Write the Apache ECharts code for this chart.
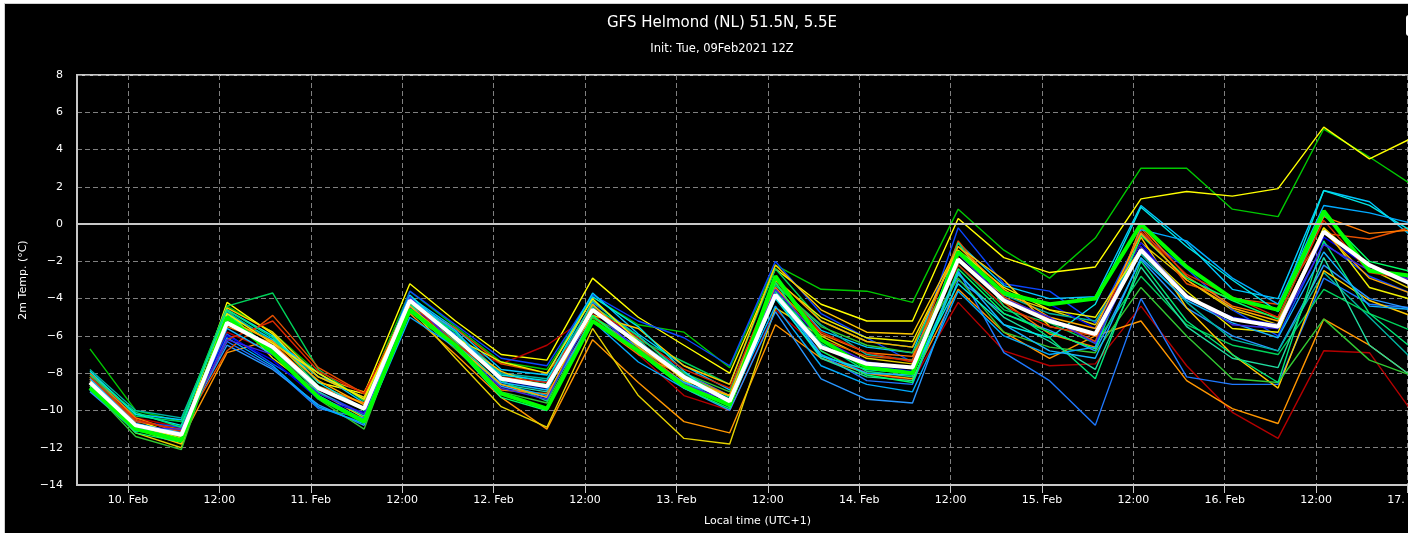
<!DOCTYPE html>
<html>
<head>
<meta charset="UTF-8">
<title>GFS Helmond ensemble</title>
<script src="https://cdn.jsdelivr.net/npm/echarts@6.0.0/dist/echarts.min.js"></script>
<style>
  html, body { margin: 0; padding: 0; background: #fff; overflow: hidden; }
  #main { position: absolute; left: 4px; top: 3px; width: 1434px; height: 540px;
          border-left: 1px solid #d0d0d0; border-top: 1px solid #d0d0d0; background: #000; }
</style>
</head>
<body>
<div id="main"></div>
<script>
// hours after 10 Feb 00:00 local time (UTC+1), one step every 6 h
const hours = [-5, 1, 7, 13, 19, 25, 31, 37, 43, 49, 55, 61, 67, 73, 79, 85, 91, 97, 103, 109, 115, 121, 127, 133, 139, 145, 151, 157, 163, 169];
const tickHours = [0, 12, 24, 36, 48, 60, 72, 84, 96, 108, 120, 132, 144, 156, 168];
const tickLabels = ['10. Feb', '12:00', '11. Feb', '12:00', '12. Feb', '12:00', '13. Feb', '12:00', '14. Feb', '12:00', '15. Feb', '12:00', '16. Feb', '12:00', '17. Feb'];

const ensMean = [-8.5, -10.8, -11.3, -5.3, -6.6, -8.8, -9.9, -4.1, -6.1, -8.3, -8.7, -4.6, -6.4, -8.2, -9.5, -3.8, -6.6, -7.5, -7.7, -1.9, -4.1, -5.2, -5.9, -1.4, -3.9, -5.1, -5.5, -0.4, -2.2, -3.3];
const control = [-8.8, -11.0, -11.6, -5.0, -6.9, -9.3, -10.6, -4.6, -6.5, -9.1, -9.9, -5.2, -6.8, -8.7, -9.7, -2.8, -6.2, -7.7, -8.0, -1.5, -3.7, -4.3, -4.0, 0.0, -2.3, -4.0, -4.6, 0.7, -2.5, -2.8];

const m01 = [-6.7, -10.0, -10.6, -4.4, -5.8, -8.0, -9.4, -3.6, -5.5, -7.4, -7.8, -3.9, -5.4, -5.8, -7.7, -2.2, -3.5, -3.6, -4.2, 0.8, -1.4, -2.9, -0.75, 3.0, 3.0, 0.8, 0.4, 5.1, 3.6, 2.0];
const m02 = [-8.2, -10.5, -11.4, -4.2, -5.9, -8.5, -9.1, -3.2, -5.2, -7.0, -7.3, -2.9, -5.0, -6.5, -8.0, -2.4, -4.3, -5.2, -5.2, 0.3, -1.8, -2.6, -2.3, 1.35, 1.75, 1.5, 1.9, 5.2, 3.5, 4.7];
const m03 = [-8.1, -10.4, -10.9, -5.8, -6.9, -8.9, -9.6, -4.4, -6.3, -7.5, -6.5, -4.8, -7.0, -9.2, -10.0, -4.6, -6.8, -8.0, -8.4, -4.2, -6.8, -7.6, -7.5, -4.4, -7.6, -10.1, -11.5, -6.8, -6.9, -10.3];
const m04 = [-8.3, -10.9, -11.6, -6.9, -6.2, -8.2, -9.0, -4.8, -7.0, -9.3, -11.0, -6.2, -8.5, -10.6, -11.2, -5.4, -7.2, -8.0, -8.3, -3.5, -5.8, -7.2, -6.0, -5.2, -8.4, -9.9, -10.7, -5.1, -6.5, -8.3];
const m05 = [-8.6, -11.2, -12.0, -4.6, -7.2, -9.0, -10.4, -4.5, -7.2, -9.8, -10.9, -5.6, -9.2, -11.5, -11.8, -4.5, -6.0, -7.2, -7.5, -2.0, -3.8, -4.6, -5.4, -1.0, -3.0, -4.6, -5.4, -0.2, -2.4, -3.6];
const m06 = [-8.9, -11.0, -11.1, -6.3, -7.7, -9.9, -10.4, -4.4, -5.9, -8.0, -8.5, -4.2, -6.0, -8.0, -9.2, -3.6, -7.0, -8.4, -8.6, -2.5, -6.9, -8.4, -10.8, -4.0, -8.2, -8.6, -8.6, -2.9, -4.3, -4.5];
const m07 = [-8.4, -10.6, -10.9, -5.9, -7.5, -9.0, -10.2, -3.6, -5.4, -7.2, -7.6, -3.8, -5.2, -6.1, -7.6, -2.0, -4.8, -6.1, -7.4, -0.2, -3.2, -3.6, -5.3, -0.5, -2.4, -4.6, -6.0, -1.0, -2.8, -3.8];
const m08 = [-9.0, -11.1, -11.0, -6.5, -7.8, -9.7, -10.8, -4.5, -6.4, -8.7, -9.3, -5.0, -6.6, -8.8, -10.0, -4.7, -8.3, -9.4, -9.6, -3.0, -4.8, -5.7, -6.8, -1.9, -4.5, -6.0, -6.8, -2.2, -4.0, -4.6];
const m09 = [-8.0, -10.2, -10.5, -4.8, -6.2, -8.0, -9.6, -3.9, -5.6, -7.8, -8.1, -3.7, -5.9, -7.6, -8.9, -3.0, -5.7, -6.6, -6.9, -1.0, -3.3, -4.0, -3.9, 1.0, -1.0, -3.5, -4.0, 1.8, 1.2, -0.8];
const m10 = [-7.8, -10.0, -10.4, -4.7, -6.3, -8.2, -9.3, -4.0, -5.8, -8.0, -8.3, -4.3, -6.6, -8.6, -9.8, -3.3, -5.4, -7.0, -7.3, -1.5, -3.8, -4.8, -5.2, -1.6, -4.2, -6.2, -6.8, -2.6, -5.0, -7.4];
const m11 = [-8.2, -10.3, -10.6, -4.4, -3.7, -7.8, -9.5, -4.2, -6.0, -8.2, -8.6, -4.7, -6.2, -7.4, -8.6, -2.4, -5.2, -6.3, -6.6, -2.2, -4.6, -5.3, -6.4, -2.8, -5.4, -6.5, -7.0, -3.5, -4.8, -5.8];
const m12 = [-8.3, -10.6, -11.0, -6.8, -4.9, -7.7, -9.1, -4.3, -5.6, -7.5, -8.0, -5.0, -6.7, -8.5, -9.7, -3.4, -6.2, -7.1, -7.3, -0.9, -3.9, -5.1, -6.3, -0.2, -3.2, -4.0, -4.3, -0.5, -0.8, -0.1];
const m13 = [-8.6, -10.9, -11.4, -4.9, -6.7, -9.0, -10.3, -4.3, -6.3, -8.6, -9.0, -4.1, -6.2, -8.4, -9.8, -3.9, -7.2, -8.2, -8.4, -2.7, -5.0, -6.3, -7.8, -2.3, -5.5, -7.2, -7.7, -1.8, -6.5, -8.3];
const m14 = [-8.7, -11.0, -11.8, -4.5, -5.8, -8.2, -9.3, -4.0, -6.2, -7.9, -8.8, -4.9, -5.6, -7.6, -8.6, -2.2, -4.6, -5.8, -5.9, -1.2, -3.0, -5.5, -6.0, -0.7, -4.5, -7.0, -8.8, -2.5, -4.1, -5.0];
const m15 = [-8.0, -10.4, -11.2, -5.5, -6.4, -8.7, -9.6, -4.6, -6.7, -8.9, -9.1, -5.2, -7.0, -8.1, -9.2, -3.4, -5.9, -6.9, -7.1, -1.8, -4.2, -5.9, -6.6, -0.1, -2.8, -4.4, -5.0, 0.4, -0.5, -0.3];
const m16 = [-8.8, -11.4, -12.1, -5.0, -6.9, -9.4, -11.0, -4.4, -6.7, -9.0, -9.6, -5.0, -6.3, -8.0, -9.0, -3.2, -5.5, -6.5, -6.9, -2.9, -5.8, -6.6, -6.9, -3.4, -6.0, -8.3, -8.5, -5.1, -7.3, -8.2];
const m17 = [-8.6, -10.9, -11.2, -6.0, -7.3, -9.4, -10.1, -4.5, -6.0, -8.4, -8.8, -4.4, -6.3, -8.1, -9.4, -3.7, -6.5, -7.6, -7.9, -1.6, -3.7, -4.3, -5.6, -1.0, -4.0, -5.0, -5.4, -0.7, -2.3, -3.1];
const m18 = [-8.7, -11.2, -11.7, -4.8, -6.8, -9.2, -10.6, -4.7, -6.6, -9.3, -10.0, -4.9, -6.9, -8.8, -9.9, -3.1, -6.8, -8.1, -8.5, -2.4, -4.8, -5.8, -6.7, -0.6, -2.9, -4.1, -5.1, 0.5, -2.0, -2.6];
const m19 = [-7.9, -10.2, -10.8, -4.6, -6.0, -8.5, -9.9, -3.8, -6.0, -8.1, -8.4, -3.9, -5.5, -7.9, -9.7, -4.0, -7.1, -7.8, -8.0, -3.2, -5.4, -6.1, -4.3, 0.9, -1.2, -3.0, -4.7, 1.8, 1.0, -0.5];
const m20 = [-8.9, -11.1, -11.3, -6.1, -7.6, -9.8, -10.7, -5.0, -6.6, -8.6, -9.2, -5.2, -7.4, -8.8, -9.6, -4.4, -7.6, -8.6, -9.0, -3.6, -6.0, -7.0, -6.6, -0.3, -0.9, -2.9, -4.3, 1.0, 0.6, 0.0];
const m21 = [-8.2, -10.5, -11.1, -6.2, -5.2, -7.9, -9.1, -4.2, -6.4, -8.2, -8.5, -4.5, -6.1, -7.8, -8.8, -3.0, -5.8, -6.9, -7.4, -2.2, -4.4, -5.5, -6.0, -0.4, -2.7, -3.9, -5.0, 0.2, -2.6, -3.0];
const m22 = [-8.1, -10.1, -10.9, -4.6, -6.1, -8.7, -10.0, -4.3, -5.8, -8.4, -9.5, -4.4, -6.0, -8.1, -9.3, -3.6, -6.4, -7.9, -8.2, -1.0, -4.4, -6.1, -8.3, -2.0, -5.2, -7.0, -8.5, -0.9, -4.8, -6.8];
const m23 = [-8.5, -10.8, -11.5, -4.8, -6.4, -8.0, -9.4, -4.1, -6.1, -7.4, -8.0, -4.0, -6.3, -8.4, -9.2, -3.0, -5.0, -6.1, -6.3, -1.4, -3.4, -4.6, -5.0, -1.3, -3.6, -5.6, -5.8, -0.2, -3.4, -4.1];
const m24 = [-8.4, -10.7, -11.4, -5.1, -6.3, -8.4, -9.7, -4.4, -6.5, -8.6, -9.3, -4.3, -6.6, -8.3, -9.2, -2.9, -5.2, -6.3, -6.6, -1.2, -3.5, -5.0, -5.6, -0.5, -3.0, -4.5, -5.2, -0.4, -2.9, -3.8];
const m25 = [-8.3, -10.7, -11.2, -5.6, -7.0, -9.2, -10.5, -4.0, -5.7, -8.5, -8.9, -4.5, -6.9, -8.5, -9.4, -3.8, -7.0, -8.0, -8.1, -2.6, -5.4, -6.8, -7.2, -1.8, -4.1, -5.3, -6.1, -1.5, -4.4, -4.6];
const m26 = [-8.5, -10.9, -11.0, -6.2, -7.0, -9.1, -10.2, -3.9, -6.6, -8.8, -9.4, -4.6, -6.8, -8.6, -9.5, -3.5, -6.2, -7.4, -7.7, -1.6, -4.0, -5.0, -6.4, -1.2, -3.8, -5.4, -5.6, -1.1, -2.5, -3.0];

const members = [m01, m02, m03, m04, m05, m06, m07, m08, m09, m10, m11, m12, m13, m14, m15, m16, m17, m18, m19, m20, m21, m22, m23, m24, m25, m26];
const memberColors = ['#00c800', '#ffff00', '#b40000', '#ff9600', '#e6d200', '#1e78ff', '#0a46ff', '#2896ff', '#00c8ff', '#00b4a0',
                      '#00d25a', '#e65000', '#20dca0', '#ffc800', '#ff7800', '#32c832', '#0000e6', '#00ff64', '#00e6e6', '#00aaff',
                      '#dc2800', '#00e678', '#f0f000', '#ffaa00', '#14b4ff', '#3c28e6'];

const pair = vals => vals.map((v, i) => [hours[i], v]);

const series = members.map((vals, k) => ({
  type: 'line', data: pair(vals), symbol: 'none', silent: true,
  lineStyle: { color: memberColors[k], width: 1.4 }, z: 2
}));
series.push({
  type: 'line', data: pair(control), symbol: 'none', silent: true,
  lineStyle: { color: '#00ff00', width: 4 }, z: 3
});
series.push({
  type: 'line', data: pair(ensMean), symbol: 'none', silent: true,
  lineStyle: { color: '#ffffff', width: 4 }, z: 4,
  markLine: {
    silent: true, symbol: ['none', 'none'], label: { show: false },
    lineStyle: { color: '#c8c8c8', width: 2, type: 'solid' },
    data: [{ yAxis: 0 }]
  }
});

const chart = echarts.init(document.getElementById('main'));
chart.setOption({
  backgroundColor: '#000',
  animation: false,
  title: {
    text: 'GFS Helmond (NL) 51.5N, 5.5E',
    subtext: 'Init: Tue, 09Feb2021 12Z',
    left: 'center', top: 7, itemGap: 12,
    textStyle: { color: '#fff', fontSize: 15, fontWeight: 'normal', fontFamily: 'DejaVu Sans' },
    subtextStyle: { color: '#fff', fontSize: 11.5, fontFamily: 'DejaVu Sans' }
  },
  grid: { left: 72, top: 71, width: 1361, height: 410, show: true, borderColor: '#c8c8c8', borderWidth: 2 },
  xAxis: {
    type: 'value', min: -6.7, max: 172,
    name: 'Local time (UTC+1)', nameLocation: 'middle', nameGap: 31,
    nameTextStyle: { color: '#fff', fontSize: 11, fontFamily: 'DejaVu Sans' },
    axisLine: { show: true, onZero: false, lineStyle: { color: '#c8c8c8', width: 2 } },
    axisTick: { show: true, customValues: tickHours, length: 8, lineStyle: { color: '#c8c8c8', width: 1 } },
    axisLabel: {
      customValues: tickHours, margin: 10, color: '#fff', fontSize: 11, fontFamily: 'DejaVu Sans',
      formatter: v => tickLabels[tickHours.indexOf(v)] || ''
    },
    splitLine: { show: true, lineStyle: { color: '#808080', width: 1, type: [5, 3] } }
  },
  yAxis: {
    type: 'value', min: -14, max: 8, interval: 2,
    name: '2m Temp. (°C)', nameLocation: 'middle', nameGap: 40, nameRotate: 90,
    nameTextStyle: { color: '#fff', fontSize: 11, fontFamily: 'DejaVu Sans' },
    axisLine: { show: true, onZero: false, lineStyle: { color: '#c8c8c8', width: 2 } },
    axisTick: { show: false },
    axisLabel: { color: '#fff', fontSize: 11, margin: 14, fontFamily: 'DejaVu Sans',
                 formatter: v => String(v).replace('-', '\u2212') },
    splitLine: { show: true, lineStyle: { color: '#808080', width: 1, type: [5, 3] } }
  },
  graphic: [{
    type: 'rect', left: 1401, top: 11, shape: { width: 24, height: 21, r: 3 },
    style: { fill: '#fff' }, silent: true
  }],
  series: series
});
</script>
</body>
</html>
